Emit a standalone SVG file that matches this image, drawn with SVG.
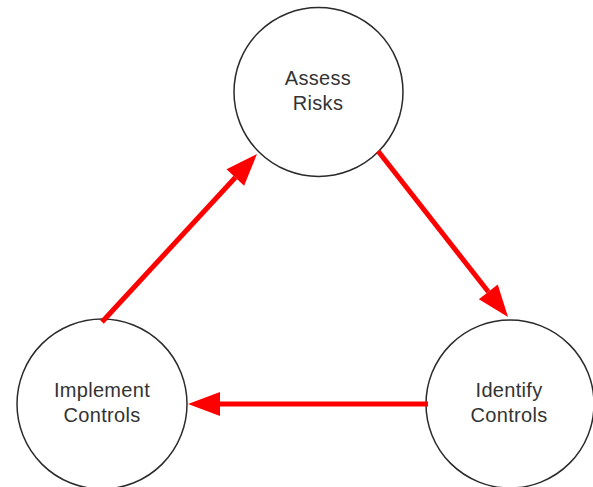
<svg xmlns="http://www.w3.org/2000/svg" width="593" height="487" viewBox="0 0 593 487">
  <style>
    .node circle { fill: #ffffff; stroke: #2a2a2a; stroke-width: 1.5; }
    .node text { font-family: "Liberation Sans", Arial, sans-serif; font-size: 20px; fill: #333333; text-anchor: middle; letter-spacing: 0.3px; }
    .edge { stroke: #ff0000; stroke-width: 5; fill: none; marker-end: url(#head); }
  </style>
  <defs>
    <marker id="head" markerUnits="userSpaceOnUse" markerWidth="32" markerHeight="24" refX="0" refY="12" orient="auto" overflow="visible">
      <path d="M0,0 L32,12 L0,24 Z" fill="#ff0000"/>
    </marker>
  </defs>

  <g id="assess-risks" class="node">
    <circle cx="318.5" cy="92" r="84.5"/>
    <text x="318" y="85">Assess</text>
    <text x="318" y="110">Risks</text>
  </g>

  <g id="identify-controls" class="node">
    <circle cx="510" cy="404" r="84"/>
    <text x="509" y="397">Identify</text>
    <text x="509" y="422">Controls</text>
  </g>

  <g id="implement-controls" class="node">
    <circle cx="102" cy="404" r="85"/>
    <text x="102" y="397">Implement</text>
    <text x="102" y="422">Controls</text>
  </g>

  <g id="connectors">
    <line class="edge" x1="102" y1="322" x2="235.3" y2="177.5"/>
    <line class="edge" x1="378" y1="151" x2="488.3" y2="291.8"/>
    <line class="edge" x1="428" y1="404" x2="220" y2="404"/>
  </g>
</svg>
